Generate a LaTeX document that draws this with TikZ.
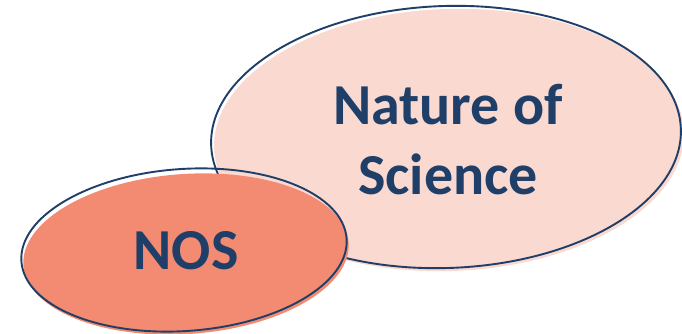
\documentclass[tikz,border=0pt]{standalone}
\usepackage{fontspec}
\setmainfont{Carlito}
\definecolor{navy}{HTML}{1F3F68}
\definecolor{bigfill}{HTML}{FAD9D1}
\definecolor{smallfill}{HTML}{F28B72}
\begin{document}
\begin{tikzpicture}[x=1pt,y=-1pt,
  outline/.style={draw=navy,line width=1.9pt},
  label/.style={text=navy,font=\fontsize{58}{70}\selectfont\bfseries,align=center}]
\useasboundingbox (0,0) rectangle (682,334);
% big ellipse
\fill[bigfill,rotate around={2:(449,140)}] (449,140) ellipse [x radius=235, y radius=131];
\draw[outline,rotate around={2:(446,137)}] (446,137) ellipse [x radius=235, y radius=131];
% small ellipse
\fill[smallfill,rotate around={4:(186,254)}] (186,254) ellipse [x radius=163, y radius=80];
\draw[outline,rotate around={4:(184,250)}] (184,250) ellipse [x radius=163, y radius=81];
\node[label] (nos) at (186,251) {NOS};
\node[label] (nat) at (448,140) {Nature of\\Science};
\end{tikzpicture}
\end{document}
